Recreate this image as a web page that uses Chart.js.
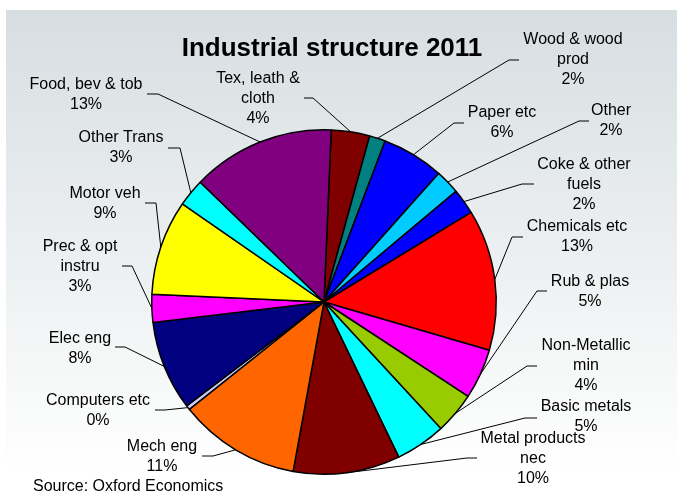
<!DOCTYPE html>
<html>
<head>
<meta charset="utf-8">
<script src="https://cdn.jsdelivr.net/npm/chart.js@4"></script>
<style>
  html, body { margin: 0; padding: 0; background: #fff; }
  canvas { display: block; }
</style>
</head>
<body>
<canvas id="pieChart" width="677" height="495"></canvas>
<script>
// Data, clockwise from 12 o'clock
const sectors = [
    ['Tex, leath &', 'cloth'], ['Wood & wood', 'prod'], ['Paper etc'], ['Other'],
    ['Coke & other', 'fuels'], ['Chemicals etc'], ['Rub & plas'], ['Non-Metallic', 'min'],
    ['Basic metals'], ['Metal products', 'nec'], ['Mech eng'], ['Computers etc'],
    ['Elec eng'], ['Prec & opt', 'instru'], ['Motor veh'], ['Other Trans'], ['Food, bev & tob']
];
const shares = [3.6, 1.5, 5.8, 2.3, 2.4, 13.2, 4.7, 3.9, 4.7, 10.0, 11.4, 0.4, 8.4, 2.6, 8.9, 2.6, 13.4];
const sliceColors = [
    '#800000', '#008080', '#0000FF', '#00CCFF', '#0000FF', '#FF0000', '#FF00FF', '#99CC00',
    '#00FFFF', '#800000', '#FF6600', '#CCCCFF', '#000080', '#FF00FF', '#FFFF00', '#00FFFF', '#800080'
];

// label placement: text centre x, first line y, leader elbow (ax, ay), stub end x
const labelPos = [
    [258, 79, 313, 98, 304], [573, 40, 509, 60, 519], [502, 113, 454, 123, 464], [611, 111, 579, 121, 589],
    [584, 165, 522, 184, 534], [577, 227, 512, 237, 523], [590, 282, 537, 291, 547], [586, 346, 527, 366, 537],
    [586, 407, 525, 418, 537], [533, 439, 467, 458, 477], [162, 447, 213, 456, 202], [98, 401, 165, 410, 155],
    [80, 339, 125, 347, 115], [80, 247, 132, 266, 122], [105, 194, 156, 203, 145], [121, 138, 180, 148, 168],
    [86, 85, 158, 94, 147]
];

const total = shares.reduce((a, b) => a + b, 0);

const decorations = {
    id: 'decorations',
    beforeDraw(chart) {
        const ctx = chart.ctx;
        ctx.save();
        ctx.fillStyle = '#ffffff';
        ctx.fillRect(0, 0, chart.width, chart.height);
        const g = ctx.createLinearGradient(0, 10, 0, 475);
        g.addColorStop(0, '#d7dee1');
        g.addColorStop(1, '#ffffff');
        ctx.fillStyle = g;
        ctx.fillRect(6, 10, chart.width - 6, chart.height - 10);
        ctx.restore();
    },
    afterDraw(chart) {
        const ctx = chart.ctx;
        const arcs = chart.getDatasetMeta(0).data;
        ctx.save();
        ctx.fillStyle = '#000';
        ctx.font = 'bold 26px "Liberation Sans", Arial, sans-serif';
        ctx.textAlign = 'center';
        ctx.textBaseline = 'alphabetic';
        ctx.fillText('Industrial structure 2011', 332, 56);

        ctx.font = '16px "Liberation Sans", Arial, sans-serif';
        ctx.textBaseline = 'middle';
        ctx.strokeStyle = '#000';
        ctx.lineWidth = 1;
        arcs.forEach((arc, i) => {
            const p = arc.getProps(['x', 'y', 'startAngle', 'endAngle', 'outerRadius'], true);
            const mid = (p.startAngle + p.endAngle) / 2;
            const rx = p.x + Math.cos(mid) * p.outerRadius;
            const ry = p.y + Math.sin(mid) * p.outerRadius;
            const [tx, ty, ax, ay, sx] = labelPos[i];
            ctx.beginPath();
            ctx.moveTo(rx, ry);
            ctx.lineTo(ax, ay);
            ctx.lineTo(sx, ay);
            ctx.stroke();
            const lines = sectors[i].concat([Math.round(shares[i] / total * 100) + '%']);
            lines.forEach((t, k) => ctx.fillText(t, tx, ty + k * 20));
        });

        ctx.textAlign = 'left';
        ctx.fillText('Source: Oxford Economics', 33, 487);
        ctx.restore();
    }
};

const ctx = document.getElementById('pieChart').getContext('2d');
const pieChart = new Chart(ctx, {
    type: 'pie',
    data: {
        labels: sectors.map(s => s.join(' ')),
        datasets: [{
            data: shares,
            backgroundColor: sliceColors,
            borderColor: '#000',
            borderWidth: 1.5
        }]
    },
    options: {
        responsive: false,
        animation: false,
        rotation: 2.4,
        layout: { padding: { top: 129, bottom: 20, left: 100, right: 129 } },
        plugins: {
            legend: { display: false },
            title: { display: false },
            tooltip: { enabled: false }
        }
    },
    plugins: [decorations]
});
</script>
</body>
</html>
